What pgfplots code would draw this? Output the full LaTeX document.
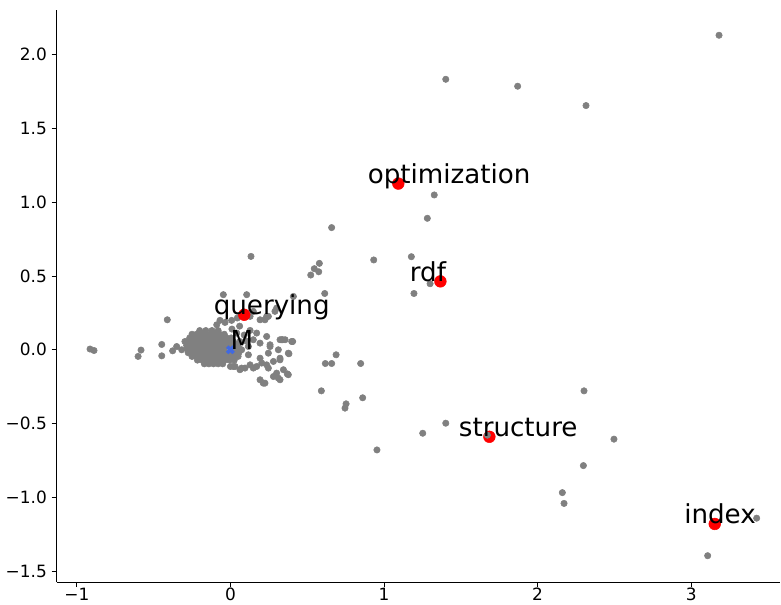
\documentclass[border=0pt]{standalone}
\usepackage{fontspec}
\setmainfont{DejaVu Sans}
\usepackage{pgfplots}
\pgfplotsset{compat=1.18}
\definecolor{mgray}{HTML}{808080}
\definecolor{mblue}{HTML}{4169E1}
\begin{document}
\begin{tikzpicture}
\begin{axis}[
  scale only axis, width=542.6pt, height=429pt,
  xmin=-1.132, xmax=3.578, ymin=-1.572, ymax=2.30,
  axis x line*=bottom, axis y line*=left,
  axis line style={black, line width=0.6pt},
  tick align=outside, major tick length=3.75pt,
  tick style={black, line width=0.6pt},
  xtick={-1,0,1,2,3}, xticklabels={−1,0,1,2,3},
  ytick={-1.5,-1.0,-0.5,0,0.5,1.0,1.5,2.0},
  yticklabels={−1.5,−1.0,−0.5,0.0,0.5,1.0,1.5,2.0},
  ticklabel style={font=\fontsize{12.7}{14}\selectfont},
  xticklabel style={yshift=2.5pt},
  clip=false,
  after end axis/.code={
    \node[anchor=base west, inner sep=0pt, font=\fontsize{19.6}{22}\selectfont] at (axis cs:0.893,1.125) {optimization};
    \node[anchor=base west, inner sep=0pt, font=\fontsize{19.6}{22}\selectfont] at (axis cs:1.167,0.463) {rdf};
    \node[anchor=base west, inner sep=0pt, font=\fontsize{19.6}{22}\selectfont] at (axis cs:-0.110,0.237) {querying};
    \node[anchor=base west, inner sep=0pt, font=\fontsize{19.6}{22}\selectfont] at (axis cs:1.486,-0.589) {structure};
    \node[anchor=base west, inner sep=0pt, font=\fontsize{19.6}{22}\selectfont] at (axis cs:2.953,-1.179) {index};
    \node[anchor=base west, inner sep=0pt, font=\fontsize{19.6}{22}\selectfont] at (axis cs:0,0) {M};
  },
]
% gray points (all words)
\addplot[only marks, mark=*, mark size=2.4pt, color=mgray, mark options={fill=mgray, draw=none}] coordinates {
(3.181,2.129) (1.402,1.831) (1.870,1.784) (2.315,1.653)
(1.327,1.048) (1.282,0.890) (0.659,0.827) (0.933,0.608) (1.178,0.630)
(1.300,0.447) (1.195,0.381) (0.579,0.585) (0.546,0.549) (0.575,0.528) (0.523,0.506)
(0.614,0.381) (0.410,0.361) (0.134,0.632)
(0.340,0.068) (0.403,0.056) (0.381,-0.027) (0.345,-0.135) (0.377,-0.169)
(0.688,-0.034) (0.618,-0.093) (0.659,-0.093) (0.848,-0.093) (0.592,-0.278)
(0.861,-0.325) (0.753,-0.366) (0.746,-0.395) (0.954,-0.678)
(1.402,-0.497) (1.252,-0.565)
(2.302,-0.278) (2.497,-0.605) (2.298,-0.784) (2.161,-0.967) (2.172,-1.040)
(3.426,-1.140) (3.107,-1.394)
(-0.914,0.005) (-0.888,-0.005) (-0.582,-0.002) (-0.601,-0.045)
(-0.447,0.036) (-0.447,-0.041) (-0.411,0.203) (-0.376,-0.007) (-0.350,0.022)
(-0.296,0.056) (-0.317,0.000)
(-0.089,0.169) (-0.068,0.199) (-0.035,0.185) (0.008,0.199) (0.045,0.215)
(0.128,0.226) (0.149,0.260) (0.225,0.203) (0.247,0.226) (0.290,0.260)
(0.106,0.373) (-0.046,0.373) (0.193,0.203) (0.236,0.226) (0.301,0.282)
(0.128,0.131) (0.171,0.113) (0.149,0.068) (0.193,0.045) (0.258,0.034)
(0.323,0.068) (0.356,0.068) (0.405,0.056) (0.377,-0.023) (0.312,0.000)
(0.247,-0.023) (0.193,-0.057) (0.117,-0.034) (0.128,-0.102) (0.171,-0.113)
(0.236,-0.102) (0.280,-0.079) (0.323,-0.068) (0.301,-0.158) (0.370,-0.163)
(0.280,-0.181) (0.193,-0.203) (0.214,-0.226) (0.323,-0.203) (0.095,-0.124)
(0.062,-0.135) (0.030,-0.113) (0.000,-0.113) (0.236,0.090) (0.117,0.022)
(0.073,0.000) (0.062,0.056) (0.041,0.113) (0.334,0.068) (0.399,0.056)
(0.258,0.022) (0.323,-0.057) (0.204,-0.090) (0.247,-0.124) (0.225,-0.226)
(0.312,-0.192) (0.073,-0.124) (0.019,-0.113) (0.149,-0.124)
(0.010,0.140) (0.060,0.160) (0.090,0.100) (0.100,0.060)
(-0.20,0.13) (-0.16,0.13) (-0.12,0.13) (-0.08,0.13)
(-0.25,0.105) (-0.22,0.105) (-0.19,0.105) (-0.16,0.105) (-0.13,0.105) (-0.10,0.105) (-0.07,0.105) (-0.04,0.105)
(-0.265,0.08) (-0.235,0.08) (-0.205,0.08) (-0.175,0.08) (-0.145,0.08) (-0.115,0.08) (-0.085,0.08) (-0.055,0.08) (-0.025,0.08) (0.005,0.08)
(-0.28,0.055) (-0.25,0.055) (-0.22,0.055) (-0.19,0.055) (-0.16,0.055) (-0.13,0.055) (-0.10,0.055) (-0.07,0.055) (-0.04,0.055) (-0.01,0.055) (0.02,0.055)
(-0.285,0.03) (-0.255,0.03) (-0.225,0.03) (-0.195,0.03) (-0.165,0.03) (-0.135,0.03) (-0.105,0.03) (-0.075,0.03) (-0.045,0.03) (-0.015,0.03) (0.015,0.03) (0.045,0.03)
(-0.28,0.005) (-0.25,0.005) (-0.22,0.005) (-0.19,0.005) (-0.16,0.005) (-0.13,0.005) (-0.10,0.005) (-0.07,0.005) (-0.04,0.005) (0.03,0.005) (0.06,0.005)
(-0.275,-0.02) (-0.245,-0.02) (-0.215,-0.02) (-0.185,-0.02) (-0.155,-0.02) (-0.125,-0.02) (-0.095,-0.02) (-0.065,-0.02) (-0.035,-0.02) (-0.005,-0.02) (0.025,-0.02) (0.055,-0.02)
(-0.25,-0.045) (-0.22,-0.045) (-0.19,-0.045) (-0.16,-0.045) (-0.13,-0.045) (-0.10,-0.045) (-0.07,-0.045) (-0.04,-0.045) (-0.01,-0.045) (0.02,-0.045) (0.05,-0.045)
(-0.215,-0.07) (-0.185,-0.07) (-0.155,-0.07) (-0.125,-0.07) (-0.095,-0.07) (-0.065,-0.07) (-0.035,-0.07) (-0.005,-0.07) (0.025,-0.07)
(-0.17,-0.095) (-0.14,-0.095) (-0.11,-0.095) (-0.08,-0.095) (-0.05,-0.095)
};
% highlighted words
\addplot[only marks, mark=*, mark size=4.4pt, color=red, mark options={fill=red, draw=none}] coordinates {
(1.093,1.125) (1.367,0.463) (0.090,0.237) (1.686,-0.589) (3.153,-1.179)
};
\addplot[only marks, mark=*, mark size=2.4pt, color=mgray, mark options={fill=mgray, draw=none}] coordinates {
(1.673,-0.578)
};
% mean point
\addplot[only marks, mark=x, mark size=3.4pt, color=mblue, mark options={line width=2.6pt}] coordinates {
(0,0)
};
\end{axis}
\pgfresetboundingbox
\path (current axis.south west) ++(-42.4pt,-16.5pt) rectangle ++(585.75pt,453pt);
\end{tikzpicture}
\end{document}
